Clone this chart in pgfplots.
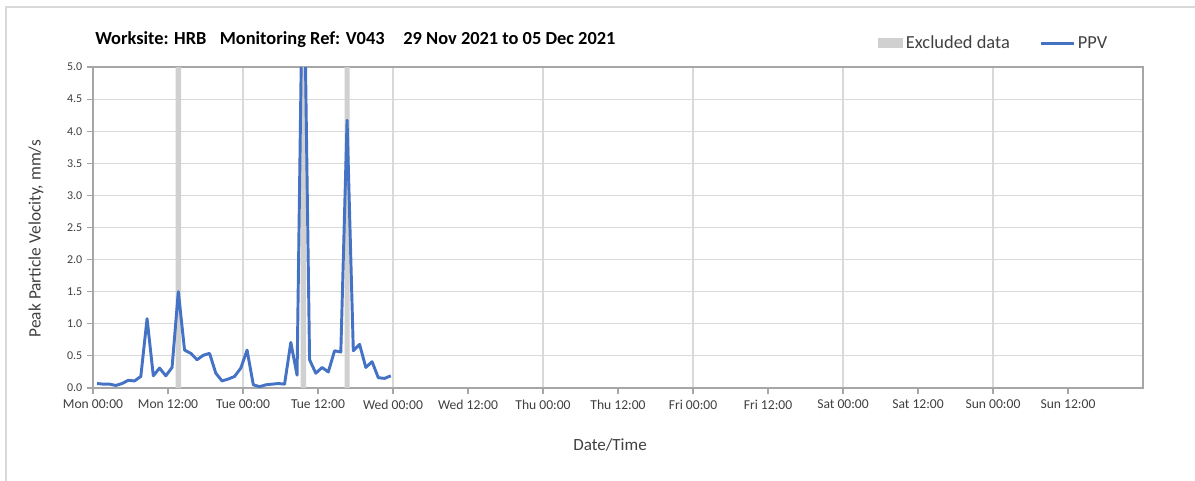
\documentclass[border=0pt]{standalone}
\usepackage{fontspec}
\setmainfont{Carlito}
\usepackage{pgfplots}
\pgfplotsset{compat=1.18}
\definecolor{ppv}{HTML}{4472C4}
\definecolor{excl}{HTML}{D0D0D0}
\definecolor{gridc}{HTML}{D9D9D9}
\definecolor{axc}{HTML}{A6A6A6}
\definecolor{txt}{HTML}{404040}

\pgfplotstableread{
t v
0.65 0.07
1.65 0.06
2.65 0.06
3.65 0.04
4.65 0.07
5.65 0.12
6.65 0.11
7.65 0.18
8.65 1.08
9.65 0.19
10.65 0.31
11.65 0.19
12.65 0.32
13.65 1.50
14.65 0.59
15.65 0.54
16.65 0.44
17.65 0.51
18.65 0.54
19.65 0.23
20.65 0.11
21.65 0.14
22.65 0.18
23.65 0.31
24.65 0.59
25.65 0.05
26.65 0.02
27.65 0.05
28.65 0.06
29.65 0.07
30.65 0.06
31.65 0.71
32.65 0.20
33.65 7.5
34.65 0.44
35.65 0.23
36.65 0.32
37.65 0.25
38.65 0.58
39.65 0.56
40.65 4.17
41.65 0.58
42.65 0.68
43.65 0.32
44.65 0.41
45.65 0.16
46.65 0.15
47.65 0.19
}\ppvdata

\begin{document}
\begin{tikzpicture}[x=1pt,y=1pt]
\useasboundingbox (0,0) rectangle (896.25,360);
\draw[gridc, line width=0.8pt] (4.5,-5) -- (4.5,354.75) -- (905,354.75);
\begin{axis}[
  at={(69.75pt,69pt)}, anchor=south west,
  scale only axis, width=787.5pt, height=240.75pt,
  xmin=0, xmax=168, ymin=0, ymax=5,
  axis line style={axc, line width=0.8pt},
  tick style={axc, line width=0.8pt},
  tick align=outside, major tick length=4.5pt,
  xtick={0,24,...,144},
  xticklabels={Mon 00:00,Tue 00:00,Wed 00:00,Thu 00:00,Fri 00:00,Sat 00:00,Sun 00:00},
  extra x ticks={12,36,...,156},
  extra x tick labels={Mon 12:00,Tue 12:00,Wed 12:00,Thu 12:00,Fri 12:00,Sat 12:00,Sun 12:00},
  extra x tick style={grid=none},
  ytick={0,0.5,...,5},
  yticklabel style={/pgf/number format/fixed, /pgf/number format/fixed zerofill, /pgf/number format/precision=1},
  /pgf/number format/assume math mode=true,
  xmajorgrids, ymajorgrids,
  major grid style={gridc, line width=0.8pt},
  x tick label style={font=\fontsize{10.2}{12}\selectfont, text=txt, yshift=-1pt},
  y tick label style={font=\fontsize{9}{10}\selectfont, text=txt},
  xtick pos=bottom, ytick pos=left,
  legend style={at={(0.7435,1.074)}, anchor=west, draw=none, fill=none,
    legend columns=2, font=\fontsize{13.8}{16}\selectfont, text=txt,
    /tikz/every even column/.append style={column sep=20pt},
    nodes={inner xsep=2pt},
    legend cell align=left},
]
\addplot[fill=excl, draw=none, legend image code/.code={\fill[excl] (0pt,-3.8pt) rectangle (19pt,3.8pt);}]
  coordinates {(13.2,0)(13.2,5)(14.1,5)(14.1,0)(33.2,0)(33.2,5)(34.1,5)(34.1,0)(40.25,0)(40.25,5)(41.05,5)(41.05,0)};
\addlegendentry{Excluded data}
\addplot[ppv, line width=2.2pt, line join=round, legend image code/.code={\draw[ppv, line width=2pt] (-3pt,0pt) -- (22pt,0pt);}] table[x=t, y=v] {\ppvdata};
\addlegendentry{PPV}
\end{axis}
\node[anchor=west, inner sep=0pt, font=\bfseries\fontsize{13.8}{16}\selectfont] at (71.25,330) {Worksite: HRB\hspace{10pt}Monitoring Ref: V043\hspace{14pt}29 Nov 2021 to 05 Dec 2021};
\node[rotate=90, font=\fontsize{13}{15}\selectfont, text=txt] at (27,181) {Peak Particle Velocity, mm/s};
\node[font=\fontsize{12.8}{15}\selectfont, text=txt] at (457.5,26) {Date/Time};
\end{tikzpicture}
\end{document}
